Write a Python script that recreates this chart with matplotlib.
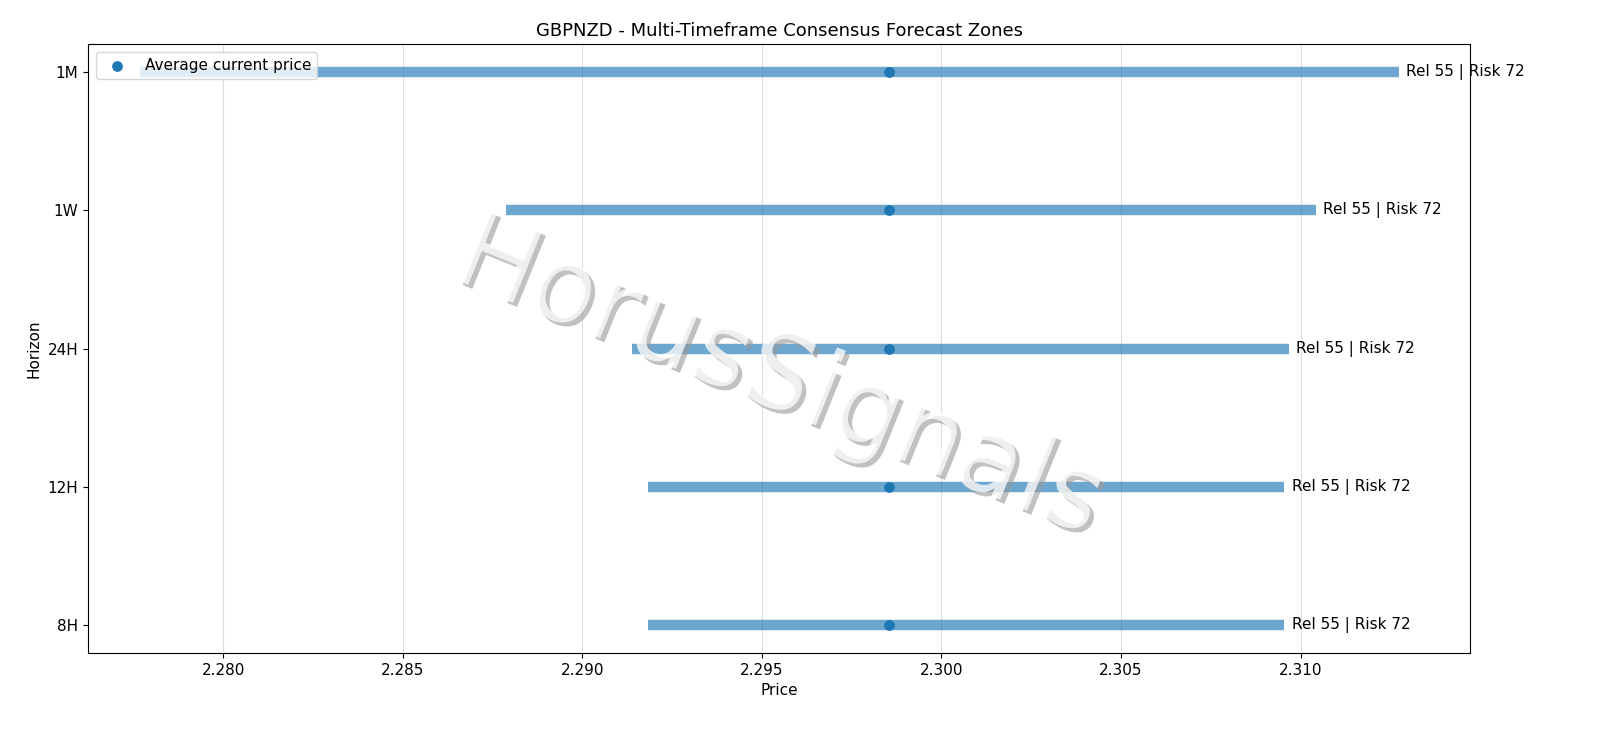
import numpy as np
import matplotlib.pyplot as plt
import matplotlib.patheffects as pe

horizons = ["8H", "12H", "24H", "1W", "1M"]
low = [2.29182, 2.29182, 2.29139, 2.28788, 2.27769]
high = [2.30955, 2.30955, 2.30967, 2.31042, 2.31273]
current = [2.29855, 2.29855, 2.29855, 2.29855, 2.29855]
labels = ["Rel 55 | Risk 72"] * 5

fig, ax = plt.subplots(figsize=(16, 7.38), dpi=100)
y = np.arange(len(horizons))
ax.hlines(y, low, high, color="tab:blue", linewidth=7.5, alpha=0.65, zorder=2)
ax.scatter(current, y, color="tab:blue", s=45, zorder=3, label="Average current price")
for yi, hi, lab in zip(y, high, labels):
    ax.text(hi + 0.0002, yi, lab, va="center", ha="left", fontsize=11)

ax.set_yticks(y)
ax.set_yticklabels(horizons)
ax.set_xticks([2.280, 2.285, 2.290, 2.295, 2.300, 2.305, 2.310])
ax.set_xticklabels([f"{v:.3f}" for v in ax.get_xticks()])
ax.tick_params(labelsize=11)
ax.set_xlim(2.27623, 2.31473)
ax.set_ylim(-0.2, 4.2)
ax.grid(axis="x", color="#dddddd", linewidth=0.8)
ax.set_axisbelow(True)
ax.set_xlabel("Price", fontsize=11)
ax.set_ylabel("Horizon", fontsize=11)
ax.set_title("GBPNZD - Multi-Timeframe Consensus Forecast Zones", fontsize=13)
ax.legend(loc="upper left", fontsize=11)

ax.text(0.50, 0.45, "HorusSignals", transform=ax.transAxes, fontsize=76,
        rotation=-22, ha="center", va="center", color="white", alpha=0.5, zorder=4,
        path_effects=[pe.withSimplePatchShadow(offset=(3, -3), shadow_rgbFace="#999999", alpha=0.6),
                      pe.Normal()])

plt.subplots_adjust(left=0.055, right=0.919, top=0.94, bottom=0.115)
plt.savefig("out.png", dpi=100)
